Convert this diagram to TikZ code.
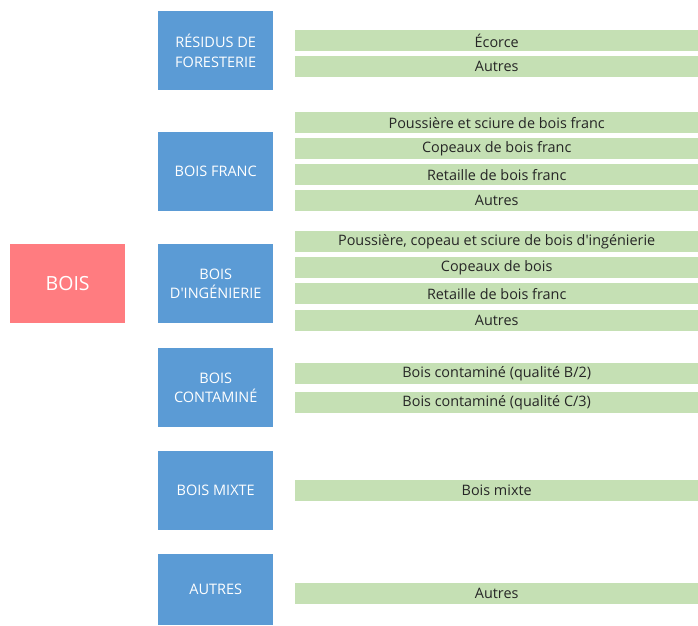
\documentclass[tikz,border=0pt]{standalone}
\usepackage{fontspec}
\setmainfont{Open Sans}[Ligatures=TeXOff]
\definecolor{boisred}{HTML}{FF7C80}
\definecolor{catblue}{HTML}{5B9BD5}
\definecolor{itemgreen}{HTML}{C5E0B4}
\definecolor{itemtext}{HTML}{262626}
\begin{document}
\begin{tikzpicture}
    [x=1pt,y=-1pt,
     root/.style={fill=boisred,text=white,anchor=north west,minimum width=115pt,minimum height=79pt,inner sep=0pt,font=\fontsize{19.5}{22}\selectfont},
     cat/.style={fill=catblue,text=white,anchor=north west,minimum width=115pt,minimum height=79pt,inner sep=0pt,align=center,font=\fontsize{14.5}{19.5}\selectfont},
     item/.style={fill=itemgreen,text=itemtext,anchor=north west,minimum width=403pt,minimum height=21pt,inner sep=0pt,font=\fontsize{14.4}{16}\selectfont}]
    \useasboundingbox (0,0) rectangle (698,625);
    \node [root] (bois) at (10,244) {BOIS};
    \node [cat] (residus) at (158,11) {RÉSIDUS DE\\FORESTERIE};
    \node [item] (ecorce) at (295,30) {Écorce};
    \node [item] (residusautres) at (295,56) {Autres};
    \node [cat] (franc) at (158,132) {BOIS FRANC};
    \node [item] (franc1) at (295,112) {Poussière et sciure de bois franc};
    \node [item] (franc2) at (295,138) {Copeaux de bois franc};
    \node [item] (franc3) at (295,164) {Retaille de bois franc};
    \node [item] (franc4) at (295,190) {Autres};
    \node [cat] (ingenierie) at (158,244) {BOIS\\D'INGÉNIERIE};
    \node [item] (ing1) at (295,231) {Poussière, copeau et sciure de bois d'ingénierie};
    \node [item] (ing2) at (295,257) {Copeaux de bois};
    \node [item] (ing3) at (295,283) {Retaille de bois franc};
    \node [item] (ing4) at (295,310) {Autres};
    \node [cat] (contamine) at (158,348) {BOIS\\CONTAMINÉ};
    \node [item] (cont1) at (295,363) {Bois contaminé (qualité B/2)};
    \node [item] (cont2) at (295,392) {Bois contaminé (qualité C/3)};
    \node [cat] (mixte) at (158,451) {BOIS MIXTE};
    \node [item] (mixte1) at (295,480) {Bois mixte};
    \node [cat,minimum height=71pt] (autres) at (158,554) {AUTRES};
    \node [item] (autres1) at (295,583) {Autres};
  \end{tikzpicture}
\end{document}
